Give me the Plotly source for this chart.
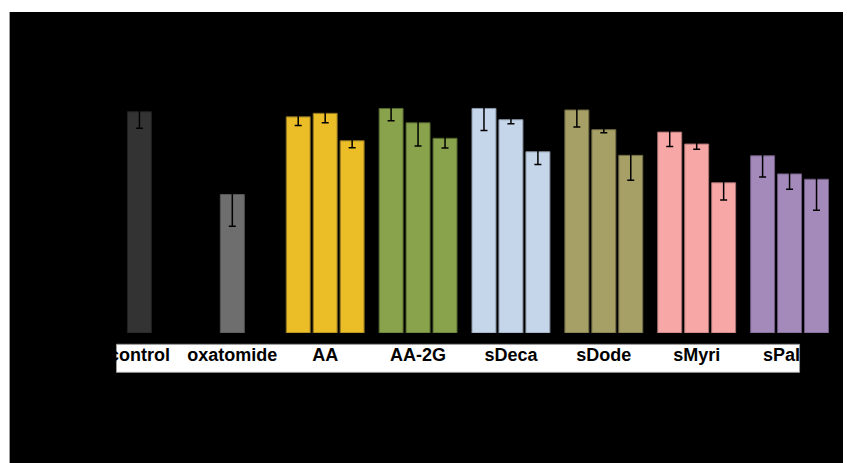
import plotly.graph_objects as go

categories = ["control", "oxatomide", "AA", "AA-2G", "sDeca", "sDode", "sMyri", "sPalm"]
colors = ["#333333", "#6e6e6e", "#ebbd26", "#88a34c", "#c5d5ea", "#a69f66", "#f7a8a6", "#a48abb"]
edge_colors = ["#222222", "#555555", "#8a7020", "#55662f", "#8a96a6", "#6e6a44", "#a87270", "#6e5c80"]

low_vals = [None, None, 97.7, 101.5, 101.5, 100.8, 90.8, 80.1]
low_err = [0, 0, 3.9, 5.6, 10.0, 7.7, 6.5, 9.6]
mid_vals = [100.0, 62.6, 99.3, 95.0, 96.4, 91.9, 85.4, 71.9]
mid_err = [7.4, 14.3, 4.3, 10.5, 1.8, 1.4, 2.3, 6.9]
high_vals = [None, None, 86.9, 88.0, 81.9, 80.3, 67.9, 69.5]
high_err = [0, 0, 3.2, 4.4, 5.7, 11.3, 7.8, 14.0]

# page body has an 8px margin, so the figure is laid out 8px up/left
OFF = 8
W, H = 851 - OFF, 463 - OFF
ml, mr, mt, mb = 92.5 - OFF, 14.5, 56 - OFF, 130.3
pw = W - ml - mr
ph = H - mt - mb
ymax = ph / 2.21

fig = go.Figure()
for name, vals, errs in [("low", low_vals, low_err), ("mid", mid_vals, mid_err), ("high", high_vals, high_err)]:
    fig.add_trace(go.Bar(
        x=categories, y=vals, name=name,
        marker=dict(color=colors, line=dict(color=edge_colors, width=1)),
        error_y=dict(type="data", array=errs, visible=True, color="black", thickness=1.5, width=3.5),
        showlegend=False,
    ))

def px_x(px):
    return (px - OFF - ml) / pw

def px_y(py):
    return (H - mb - (py - OFF)) / ph

shapes = [
    dict(type="rect", xref="paper", yref="paper", x0=px_x(9), x1=px_x(860), y0=px_y(12), y1=px_y(470),
         fillcolor="black", line=dict(width=0), layer="below"),
    dict(type="rect", xref="paper", yref="paper", x0=px_x(116), x1=px_x(800), y0=px_y(344), y1=px_y(372),
         fillcolor="white", line=dict(color="#999999", width=1), layer="below"),
]

fig.update_layout(
    width=W, height=H,
    margin=dict(l=ml, r=mr, t=mt, b=mb, pad=0),
    paper_bgcolor="white", plot_bgcolor="rgba(0,0,0,0)",
    barmode="group", bargap=0.129, bargroupgap=0.111,
    shapes=shapes,
    xaxis=dict(range=[-0.5, 7.5], showgrid=False, zeroline=False, showline=False, ticks="",
               tickfont=dict(family="Arial, Liberation Sans, sans-serif", size=18, color="black"),
               ticklabelstandoff=9),
    yaxis=dict(range=[0, ymax], showgrid=False, zeroline=False, showline=False, showticklabels=False, ticks=""),
    font=dict(family="Arial, Liberation Sans, sans-serif"),
)
fig.update_xaxes(tickvals=categories, ticktext=["<b>%s</b>" % c for c in categories])

fig.write_html("out.html")
